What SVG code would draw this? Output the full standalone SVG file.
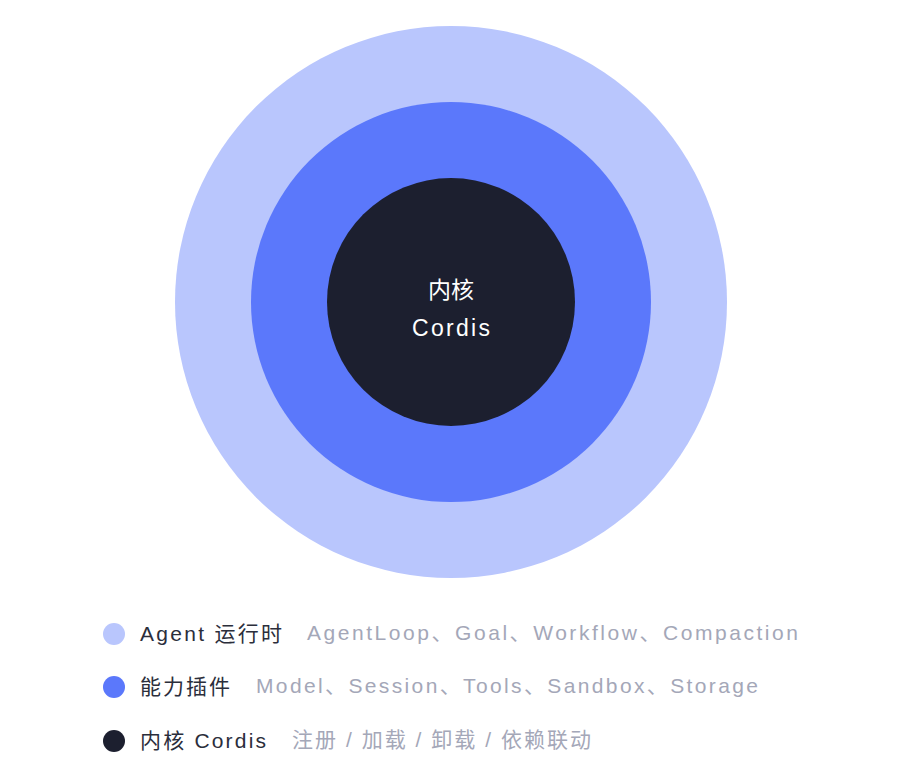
<svg xmlns="http://www.w3.org/2000/svg" width="910" height="770" viewBox="0 0 910 770">
<style>
.t{font-family:"Liberation Sans","Noto Sans CJK SC",sans-serif;}
.c{font-size:23px;fill:#ffffff;text-anchor:middle;}
.lab{font-size:21px;fill:#2b2e3b;}
.sub{font-size:21px;fill:#a4a7b8;}
</style>
<rect width="910" height="770" fill="#ffffff"/>
<g id="ring-agent"><circle cx="451" cy="302" r="276" fill="#b9c6fd"/></g>
<g id="ring-plugins"><circle cx="451" cy="302" r="200" fill="#5b78fb"/></g>
<g id="core"><circle cx="451" cy="302" r="124" fill="#1c1f2f"/>
<text class="t c" x="451" y="298" textLength="46" lengthAdjust="spacing">内核</text>
<text class="t c" x="451" y="336" textLength="78" lengthAdjust="spacing">Cordis</text></g>
<g id="connectors"></g>
<g id="legend">
<g id="legend-agent"><circle cx="114" cy="634" r="11" fill="#b9c6fd"/>
<text class="t lab" x="140" y="641" textLength="142" lengthAdjust="spacing">Agent 运行时</text>
<text class="t sub" x="307" y="640" textLength="491" lengthAdjust="spacing">AgentLoop、Goal、Workflow、Compaction</text></g>
<g id="legend-plugins"><circle cx="114" cy="687" r="11" fill="#5b78fb"/>
<text class="t lab" x="140" y="694" textLength="90" lengthAdjust="spacing">能力插件</text>
<text class="t sub" x="256" y="693" textLength="502" lengthAdjust="spacing">Model、Session、Tools、Sandbox、Storage</text></g>
<g id="legend-core"><circle cx="114" cy="741" r="11" fill="#1c1f2f"/>
<text class="t lab" x="140" y="748" textLength="126" lengthAdjust="spacing">内核 Cordis</text>
<text class="t sub" x="292" y="747" textLength="299" lengthAdjust="spacing">注册 / 加载 / 卸载 / 依赖联动</text></g>
</g>
</svg>
